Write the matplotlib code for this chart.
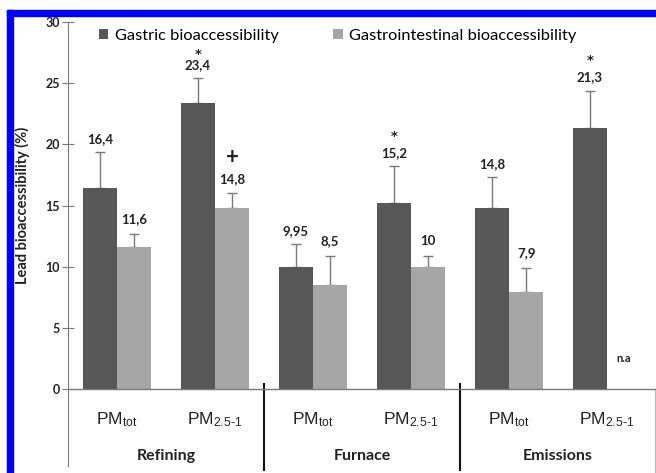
import numpy as np
import matplotlib
matplotlib.use('Agg')
import matplotlib.pyplot as plt
from matplotlib.patches import Rectangle

plt.rcParams['font.family'] = ['Lato', 'DejaVu Sans']
plt.rcParams['mathtext.fontset'] = 'custom'
plt.rcParams['mathtext.rm'] = 'Liberation Sans'
plt.rcParams['mathtext.it'] = 'Liberation Sans:italic'
plt.rcParams['mathtext.bf'] = 'DejaVu Sans:bold'

# data
sources = ['Refining', 'Furnace', 'Emissions']
fractions = [r'PM$_{\mathrm{tot}}$', r'PM$_{\mathrm{2.5\text{-}1}}$'] * 3
gastric = [16.4, 23.4, 9.95, 15.2, 14.8, 21.3]
gastric_err = [3.0, 2.0, 1.9, 3.0, 2.5, 3.1]
gastric_labels = ['16,4', '23,4', '9,95', '15,2', '14,8', '21,3']
gi = [11.6, 14.8, 8.5, 10.0, 7.9, np.nan]
gi_err = [1.1, 1.2, 2.4, 0.9, 2.0, np.nan]
gi_labels = ['11,6', '14,8', '8,5', '10', '7,9', 'n.a']
gastric_marks = {1: r'$\mathbf{*}$', 3: r'$\mathbf{*}$', 5: r'$\mathbf{*}$'}
gi_marks = {1: '+'}

DARK = '#575757'
LIGHT = '#a6a6a6'
ERR = '#7a7a7a'
TXT = '#222222'
W = 0.35


def main():
    fig = plt.figure(figsize=(6.56, 4.73), dpi=100)
    ax = fig.add_axes([68 / 656, 84 / 473, 588 / 656, 367 / 473])

    x = np.arange(len(gastric))
    ax.bar(x - W / 2, gastric, W, color=DARK, label='Gastric bioaccessibility', zorder=2)
    ax.bar(x + W / 2, np.nan_to_num(gi), W, color=LIGHT, label='Gastrointestinal bioaccessibility', zorder=2)

    ax.errorbar(x - W / 2, gastric, yerr=[np.zeros(len(x)), gastric_err], fmt='none',
                ecolor=ERR, elinewidth=1, capsize=3.5, capthick=1, zorder=1)
    ok = ~np.isnan(gi)
    ax.errorbar((x + W / 2)[ok], np.array(gi)[ok], yerr=[np.zeros(ok.sum()), np.array(gi_err)[ok]],
                fmt='none', ecolor=ERR, elinewidth=1, capsize=3.5, capthick=1, zorder=1)

    for i in range(len(x)):
        top = gastric[i] + gastric_err[i]
        lab = gastric_labels[i]
        ls = 1.0
        if i in gastric_marks:
            # star stacked over the value, tighter when close to the legend
            lab = gastric_marks[i] + '\n' + lab
            ls = 1.1 if i == 1 else 1.75
        ax.annotate(lab, (x[i] - W / 2, top), xytext=(0, 5), textcoords='offset points',
                    ha='center', va='bottom', fontsize=9.5, fontweight='bold', color=TXT,
                    linespacing=ls, multialignment='center')
        if ok[i]:
            top = gi[i] + gi_err[i]
            ax.annotate(gi_labels[i], (x[i] + W / 2, top), xytext=(0, 10.5), textcoords='offset points',
                        ha='center', va='center', fontsize=9.5, fontweight='bold', color=TXT)
            if i in gi_marks:
                ax.annotate(gi_marks[i], (x[i] + W / 2, top), xytext=(0, 26), textcoords='offset points',
                            ha='center', va='center', fontsize=16, fontweight='bold', color=TXT)
        else:
            ax.text(x[i] + W / 2, 2.5, gi_labels[i], ha='center', va='center',
                    fontsize=8, fontweight='bold', color=TXT)

    ax.set_xlim(-0.5, 5.5)
    ax.set_ylim(0, 30)
    ax.set_yticks(np.arange(0, 31, 5))
    ax.set_xticks([])
    for lab in ax.get_yticklabels():
        lab.set_fontweight('bold')
    ax.tick_params(axis='y', direction='inout', length=8, width=0.8, colors='#7a7a7a',
                   labelcolor=TXT, labelsize=9, pad=2)
    ax.spines['top'].set_visible(False)
    ax.spines['right'].set_visible(False)
    ax.spines['left'].set_color('#7a7a7a')
    ax.spines['bottom'].set_color('#7a7a7a')
    ax.spines['left'].set_linewidth(0.8)
    ax.spines['bottom'].set_linewidth(1.0)
    ax.set_ylabel('Lead bioaccessibility (%)', fontsize=10.5, fontweight='bold', labelpad=11, color=TXT)

    # table under the axis
    ax.plot([-0.5, -0.5], [0, -6.3], color='#7a7a7a', lw=0.8, clip_on=False)
    ax.plot([5.49, 5.49], [0, -6.9], color='#bbbbbb', lw=0.8, clip_on=False)
    for xs in [1.5, 3.5]:
        ax.plot([xs, xs], [0.4, -6.6], color='#111111', lw=1.5, clip_on=False)
    for i, f in enumerate(fractions):
        ax.text(x[i], -2.5, f, ha='center', va='center', fontsize=12.5,
                family=['Liberation Sans', 'DejaVu Sans'], color=TXT)
    for j, s in enumerate(sources):
        ax.text(2 * j + 0.5, -5.5, s, ha='center', va='center', fontsize=11.5,
                fontweight='bold', color=TXT)

    ax.legend(loc='center left', bbox_to_anchor=(0.052, 0.962), ncol=2, frameon=False,
              fontsize=11.8, handlelength=0.6, handleheight=0.6, handletextpad=0.4,
              columnspacing=3.3, borderaxespad=0, borderpad=0)

    # blue frame of the figure
    fig.patches.append(Rectangle((7 / 656, 0), 6 / 656, 1 - 10 / 473, transform=fig.transFigure,
                                 color='#0000ff', zorder=10))
    fig.patches.append(Rectangle((7 / 656, 1 - 16 / 473), 1, 6 / 473, transform=fig.transFigure,
                                 color='#0000ff', zorder=10))

    fig.savefig('out.png', dpi=100)


if __name__ == '__main__':
    main()
